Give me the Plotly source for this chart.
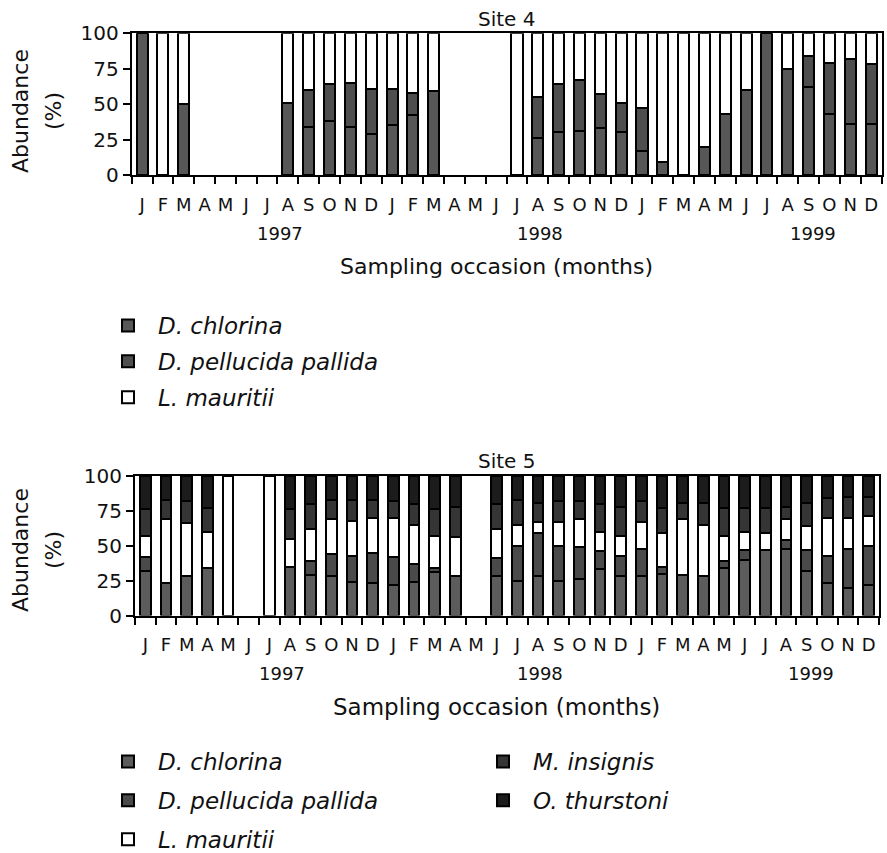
import plotly.graph_objects as go

# ---------------- data ----------------
months = ["J", "F", "M", "A", "M", "J", "J", "A", "S", "O", "N", "D"] * 3
occasions = list(range(36))  # Jan 1997 ... Dec 1999
years = ["1997", "1998", "1999"]
year_pos = [6.6, 19.1, 32.2]

# Site 4 (% abundance); None = not sampled
s4_chlorina = [100, 0, 50, None, None, None, None, 51, 34, 38, 34, 29, 35, 42, 59, None, None, None,
               0, 26, 30, 31, 33, 30, 17, 9, 0, 20, 43, 60, 100, 75, 62, 43, 36, 36]
s4_pellucida = [0, 0, 0, None, None, None, None, 0, 26, 26, 31, 32, 26, 16, 0, None, None, None,
                0, 29, 34, 36, 24, 21, 30, 0, 0, 0, 0, 0, 0, 0, 22, 36, 46, 42]
s4_mauritii = [0, 100, 50, None, None, None, None, 49, 40, 36, 35, 39, 39, 42, 41, None, None, None,
               100, 45, 36, 33, 43, 49, 53, 91, 100, 80, 57, 40, 0, 25, 16, 21, 18, 22]

# Site 5 (% abundance)
s5_chlorina = [32, 23, 28, 34, 0, None, 0, 35, 29, 28, 24, 23, 22, 24, 31, 28, None,
               28, 25, 28, 25, 26, 33, 28, 28, 30, 29, 28, 34, 40, 47, 48, 32, 23, 20, 22]
s5_pellucida = [10, 0, 0, 0, 0, None, 0, 0, 10, 16, 19, 22, 20, 13, 3, 0, None,
                13, 25, 31, 25, 23, 13, 15, 20, 5, 0, 0, 5, 7, 0, 6, 15, 20, 28, 28]
s5_mauritii = [15, 46, 38, 26, 100, None, 100, 20, 23, 25, 25, 25, 28, 28, 23, 28, None,
               21, 15, 8, 17, 20, 14, 14, 19, 24, 40, 37, 18, 13, 12, 15, 17, 27, 22, 21]
s5_insignis = [19, 14, 16, 17, 0, None, 0, 21, 18, 14, 15, 13, 12, 15, 19, 22, None,
               18, 18, 14, 15, 13, 20, 21, 15, 18, 12, 16, 20, 17, 18, 9, 17, 14, 15, 14]
s5_thurstoni = [24, 17, 18, 23, 0, None, 0, 24, 20, 17, 17, 17, 18, 20, 24, 22, None,
                20, 17, 19, 18, 18, 20, 22, 18, 23, 19, 19, 23, 23, 23, 22, 19, 16, 15, 15]

site4_series = [("D. chlorina", s4_chlorina, "#575757"),
                ("D. pellucida pallida", s4_pellucida, "#4e4e4e"),
                ("L. mauritii", s4_mauritii, "#ffffff")]
site5_col1 = [("D. chlorina", s5_chlorina, "#5c5c5c"),
              ("D. pellucida pallida", s5_pellucida, "#4a4a4a"),
              ("L. mauritii", s5_mauritii, "#ffffff")]
site5_col2 = [("M. insignis", s5_insignis, "#353535"),
              ("O. thurstoni", s5_thurstoni, "#1c1c1c")]

W, H = 887, 853
FONT = "DejaVu Sans"
INK = "#111"

fig = go.Figure()

for name, vals, col in site4_series:
    fig.add_trace(go.Bar(x=occasions, y=vals, name=name, legendgroup="a" + name,
                         marker=dict(color=col, line=dict(color="black", width=2)),
                         xaxis="x", yaxis="y", legend="legend"))
for name, vals, col in site5_col1:
    fig.add_trace(go.Bar(x=occasions, y=vals, name=name, legendgroup="b" + name,
                         marker=dict(color=col, line=dict(color="black", width=2)),
                         xaxis="x2", yaxis="y2", legend="legend2"))
for name, vals, col in site5_col2:
    fig.add_trace(go.Bar(x=occasions, y=vals, name=name, legendgroup="c" + name,
                         marker=dict(color=col, line=dict(color="black", width=2)),
                         xaxis="x2", yaxis="y2", legend="legend3"))


def px_x(p):
    return p / W


def px_y(p):
    return 1 - p / H


def xaxis_style(domain):
    return dict(domain=domain, range=[-0.5, 35.5], tickmode="array", tickvals=occasions,
                ticktext=months, ticks="", showgrid=False, zeroline=False,
                showline=True, linecolor="black", linewidth=2, mirror=True,
                tickfont=dict(family=FONT, size=18, color=INK), ticklabelstandoff=12,
                minor=dict(tickmode="array", tickvals=[i - 0.5 for i in range(37)],
                           ticks="outside", ticklen=7, tickwidth=2, tickcolor="black"),
                automargin=False, fixedrange=True)


def yaxis_style(domain, anchor):
    return dict(domain=domain, anchor=anchor, range=[0, 100], tickmode="array",
                tickvals=[0, 25, 50, 75, 100], ticks="outside", ticklen=7, tickwidth=2,
                tickcolor="black", showgrid=False, zeroline=False, showline=True,
                linecolor="black", linewidth=2, mirror=True,
                tickfont=dict(family=FONT, size=20, color=INK), automargin=False,
                fixedrange=True)


def legend_style(x, y, gap):
    return dict(x=px_x(x), y=px_y(y), xanchor="left", yanchor="top",
                traceorder="grouped", tracegroupgap=gap, itemwidth=50,
                font=dict(family=FONT, size=23, style="italic", color=INK),
                bgcolor="rgba(0,0,0,0)")


fig.update_layout(
    width=W, height=H, margin=dict(l=0, r=0, t=0, b=0, autoexpand=False),
    paper_bgcolor="white", plot_bgcolor="white",
    barmode="stack", bargap=0.47,
    font=dict(family=FONT, color=INK),
    xaxis=dict(**xaxis_style([px_x(131.7), px_x(881.5)]), anchor="y"),
    yaxis=yaxis_style([px_y(175), px_y(33.3)], "x"),
    xaxis2=dict(**xaxis_style([px_x(135), px_x(879)]), anchor="y2"),
    yaxis2=yaxis_style([px_y(615.5), px_y(476)], "x2"),
    legend=legend_style(98, 304, 3),
    legend2=legend_style(98, 740, 6),
    legend3=legend_style(473, 740, 6),
)

ann = []
for title, yc in [("Site 4", 18.5), ("Site 5", 461)]:
    ann.append(dict(text=title, x=px_x(507), y=px_y(yc), xref="paper", yref="paper",
                    showarrow=False, xanchor="center", yanchor="middle",
                    font=dict(family=FONT, size=20, color=INK)))
for xr, yc in [("x", 233.5), ("x2", 673.5)]:
    for yr, xp in zip(years, year_pos):
        ann.append(dict(text=yr, x=xp, y=px_y(yc), xref=xr, yref="paper", showarrow=False,
                        xanchor="center", yanchor="middle",
                        font=dict(family=FONT, size=18, color=INK)))
for yc, fs in [(266, 22), (707, 23)]:
    ann.append(dict(text="Sampling occasion (months)", x=px_x(496), y=px_y(yc),
                    xref="paper", yref="paper", showarrow=False, xanchor="center",
                    yanchor="middle", font=dict(family=FONT, size=fs, color=INK)))
for yc in [111, 550]:
    ann.append(dict(text="Abundance", x=px_x(20), y=px_y(yc), xref="paper", yref="paper",
                    showarrow=False, textangle=-90, xanchor="center", yanchor="middle",
                    font=dict(family=FONT, size=22, color=INK)))
    ann.append(dict(text="(%)", x=px_x(53), y=px_y(yc), xref="paper", yref="paper",
                    showarrow=False, textangle=-90, xanchor="center", yanchor="middle",
                    font=dict(family=FONT, size=22, color=INK)))
fig.update_layout(annotations=ann)

fig.write_html("out.html")
